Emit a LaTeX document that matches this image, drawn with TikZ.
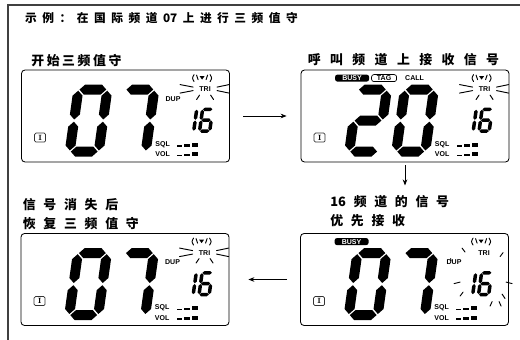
\documentclass[tikz,border=0pt]{standalone}
\usepackage{fontspec}
\usetikzlibrary{positioning,arrows.meta}
\newfontfamily\cjk{Noto Sans CJK SC}
\newfontfamily\lcdfont{Liberation Sans}
\newcommand\tight[1]{{\addfontfeature{LetterSpace=0}#1}}

% LCD segments: across (from, to, middle) and upright (middle, from, to)
\newcommand\hseg[3]{\fill (#1,#3) -- (#1+5,#3-5) -- (#2-5,#3-5) -- (#2,#3) -- (#2-5,#3+5) -- (#1+5,#3+5) -- cycle;}
\newcommand\vseg[3]{\fill (#1,#2) -- (#1+5,#2+5) -- (#1+5,#3-5) -- (#1,#3) -- (#1-5,#3-5) -- (#1-5,#2+5) -- cycle;}
\newcommand\segA{\hseg{6.1}{32.9}{5}}
\newcommand\segB{\vseg{34}{6.1}{34.9}}
\newcommand\segC{\vseg{34}{37.1}{65.9}}
\newcommand\segD{\hseg{6.1}{32.9}{67}}
\newcommand\segE{\vseg{5}{37.1}{65.9}}
\newcommand\segF{\vseg{5}{6.1}{34.9}}
\newcommand\segG{\hseg{6.1}{32.9}{36}}
\newcommand\dgtzero{\segA\segB\segC\segD\segE\segF}
\newcommand\dgtone{\segB\segC}
\newcommand\dgttwo{\segA\segB\segG\segE\segD}
\newcommand\dgtsix{\segA\segF\segG\segE\segD\segC}
\newcommand\dgtseven{\segA\segB\segC}
\newcommand\lcddigit[3]{\begin{scope}[shift={(#1,#2)},xslant=0.14]#3\end{scope}}
\newcommand\smalldigit[3]{\begin{scope}[shift={(#1,#2)},xslant=0.14,scale=0.35]#3\end{scope}}

\tikzset{
  lcdbox/.style={draw, rounded corners=3pt, line width=0.7pt, minimum width=6.24cm, minimum height=2.76cm, inner sep=0pt},
  ttl/.style={font=\cjk\bfseries\fontsize{10}{12}\selectfont\addfontfeature{LetterSpace=47}, inner sep=0pt},
  lbl/.style={font=\cjk\bfseries\fontsize{11}{16}\selectfont\addfontfeature{LetterSpace=#1}, inner sep=0pt, align=left},
  lcdtxt/.style={font=\lcdfont\bfseries\fontsize{6}{6}\selectfont, inner sep=0pt},
  iconbox/.style={draw=black!80, rounded corners=1.2pt, line width=0.6pt, minimum width=0.33cm, minimum height=0.27cm, inner sep=0pt, font=\bfseries\fontsize{6.5}{6.5}\selectfont},
  badge/.style={lcdtxt, rounded corners=2pt, minimum height=0.21cm, line width=0.6pt},
  ray/.style={line width=0.8pt, line cap=round},
  arr/.style={-{Stealth[length=1.8mm,width=1.4mm]}, line width=0.7pt},
  antenna/.pic={
    \fill (-2.5,-2) -- (2.5,-2) -- (0,1.5) -- cycle;
    \draw[ray] (-5.5,-3) -- (-4,1.5);
    \draw[ray] (5.5,-3) -- (4,1.5);
    \draw[ray] (-8,-3.5) .. controls (-10,0) .. (-8,3.5);
    \draw[ray] (8,-3.5) .. controls (10,0) .. (8,3.5);
  },
  lcd/.pic={
    \node[iconbox] (-icon) at (19,68) {I};
    \node[lcdtxt] (-sql) at (141.5,75) {SQL};
    \node[lcdtxt] (-vol) at (141.5,84.5) {VOL};
    \foreach \yb in {77,86.5} {
      \fill (156,\yb) rectangle ++(5,-1.2);
      \fill (163,\yb) rectangle ++(6,-2.2);
      \fill (171,\yb) rectangle ++(6,-3.8);
    }
    \pic at (181,8.5) {antenna};
    \node[lcdtxt] (-tri) at (184,19.5) {TRI};
    \smalldigit{164}{38}{\dgtone}
    \smalldigit{180}{38}{\dgtsix}
  },
  trirays/.pic={
    \draw[ray] (159,15) -- (172,17.5);
    \draw[ray] (159,23.5) -- (172,21);
    \draw[ray] (208,15) -- (196,17.5);
    \draw[ray] (208,23.5) -- (196,21);
    \draw[ray] (175.5,30) -- (178.5,25.5);
    \draw[ray] (192.5,30) -- (189.5,25.5);
  },
  sixteenrays/.pic={
    \draw[ray] (162,15) -- (165,19);
    \draw[ray] (203,19.5) -- (200,23.5);
    \draw[ray] (208,30) -- (208,37);
    \draw[ray] (154,50.5) -- (160,49);
    \draw[ray] (206,49) -- (212,50.5);
    \draw[ray] (160,63) -- (163,59);
    \draw[ray] (202,61) -- (205,65.5);
    \draw[ray] (190,73) -- (192,68.5);
    \draw[ray] (199,68.5) -- (201,73);
    \draw[ray] (150.5,25.5) -- (151,27.5);
  }
}

\begin{document}
\begin{tikzpicture}[x=0.03cm, y=-0.03cm]
  \useasboundingbox (0,0) rectangle (520,340);
  \draw[line width=1pt, black!75] (8,340) -- (8,5) -- (520,5);
  \node[ttl, anchor=west] (title) at (25,18) {示例：在国际频道\hspace{4.7pt}\tight{07}\hspace{4.7pt}上进行三频值守};

  % start of triple watch
  \node[lcdbox] (start) at (125.5,116) {};
  \node[lbl=20, above right=0.9mm and 3mm of start.north west] (startlbl) {开始三频值守};
  \pic (s) at (start.north west) {lcd};
  \pic at (start.north west) {trirays};
  \begin{scope}[shift={(start.north west)}]
    \node[lcdtxt] (s-dup) at (152,29.5) {DUP};
    \lcddigit{53}{15}{\dgtzero}
    \lcddigit{100}{15}{\dgtseven}
  \end{scope}

  % signal on call channel
  \node[lcdbox] (call) at (405,116) {};
  \node[lbl=73, above right=0.9mm and 2.1mm of call.north west] (calllbl) {呼叫频道上接收信号};
  \pic (c) at (call.north west) {lcd};
  \pic at (call.north west) {trirays};
  \begin{scope}[shift={(call.north west)}]
    \node[badge, fill=black, text=white, minimum width=1.02cm] (c-busy) at (51.5,8.5) {BUSY};
    \node[badge, draw, minimum width=0.75cm] (c-tag) at (83.5,8.5) {TAG};
    \node[lcdtxt] (c-call) at (114,8.5) {CALL};
    \lcddigit{53}{15}{\dgttwo}
    \lcddigit{100}{15}{\dgtzero}
  \end{scope}

  % channel 16 first
  \node[lcdbox] (prio) at (404.5,279.5) {};
  \node[lbl=60, above right=1.8mm and 9mm of prio.north west] (priolbl) {\tight{16}\hspace{6.6pt}频道的信号\\优先接收};
  \pic (p) at (prio.north west) {lcd};
  \pic at (prio.north west) {sixteenrays};
  \begin{scope}[shift={(prio.north west)}]
    \node[badge, fill=black, text=white, minimum width=1.02cm] (p-busy) at (51.5,8.5) {BUSY};
    \node[lcdtxt] (p-dup) at (154,29.5) {DUP};
    \lcddigit{53}{15}{\dgtzero}
    \lcddigit{100}{15}{\dgtseven}
  \end{scope}

  % back to triple watch
  \node[lcdbox] (resume) at (125,279.5) {};
  \node[lbl=60, above right=0.9mm and 0.6mm of resume.north west] (resumelbl) {信号消失后\\恢复三频值守};
  \pic (r) at (resume.north west) {lcd};
  \pic at (resume.north west) {trirays};
  \begin{scope}[shift={(resume.north west)}]
    \node[lcdtxt] (r-dup) at (152,29.5) {DUP};
    \lcddigit{53}{15}{\dgtzero}
    \lcddigit{100}{15}{\dgtseven}
  \end{scope}

  \draw[arr, shorten <=4mm, shorten >=4.2mm] (start) -- (call);
  \draw[arr, shorten <=0.9mm, shorten >=3mm] (call) -- (call |- priolbl.north);
  \draw[arr, shorten <=3.9mm, shorten >=5.7mm] (prio) -- (resume);
\end{tikzpicture}
\end{document}
